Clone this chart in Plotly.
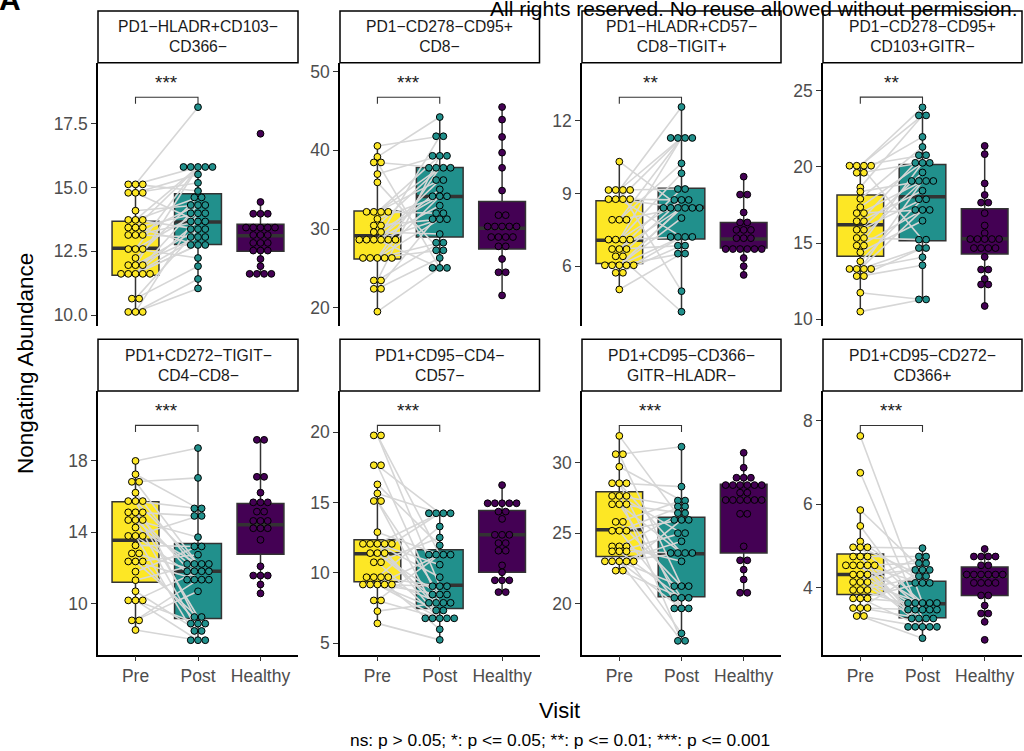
import plotly.graph_objects as go
from collections import Counter, defaultdict

W, H = 1024, 751
FONT = "Liberation Sans, Arial, Helvetica, sans-serif"

groups = ["Pre", "Post", "Healthy"]
group_colors = ["#FDE725", "#21908C", "#440154"]

panel_titles = [
    "PD1−HLADR+CD103−<br>CD366−",
    "PD1−CD278−CD95+<br>CD8−",
    "PD1−HLADR+CD57−<br>CD8−TIGIT+",
    "PD1−CD278−CD95+<br>CD103+GITR−",
    "PD1+CD272−TIGIT−<br>CD4−CD8−",
    "PD1+CD95−CD4−<br>CD57−",
    "PD1+CD95−CD366−<br>GITR−HLADR−",
    "PD1+CD95−CD272−<br>CD366+",
]
signif_labels = ["***", "***", "**", "**", "***", "***", "***", "***"]

# ---------------- data (Pre[i] paired with Post[i]) ----------------
pre_1 = [15.12, 15.12, 15.12, 14.79, 14.79, 14.79, 14.09, 13.73, 13.73, 13.73, 13.43, 13.43, 13.43, 13.14, 13.14, 13.14,
         12.59, 12.59, 12.59, 12.24, 11.96, 11.96, 11.96, 11.62, 11.62, 11.62, 11.62, 11.62, 10.65, 10.65, 10.13, 10.13, 10.13]
post_1 = [18.14, 15.80, 14.86, 15.51, 13.67, 15.18, 14.31, 15.80, 14.61, 13.37, 13.99, 15.80, 12.75, 14.31, 13.06, 13.67,
          15.80, 13.99, 12.24, 14.61, 13.37, 15.80, 13.06, 12.75, 13.67, 14.31, 13.06, 12.75, 13.37, 11.92, 11.42, 13.99, 11.05]
healthy_1 = [17.10, 14.43, 13.97, 13.97, 13.97, 13.43, 13.43, 13.43, 13.43, 13.43, 13.14, 13.14, 13.14, 12.83, 12.83, 12.83,
             12.53, 12.53, 12.53, 12.20, 11.92, 11.62, 11.62, 11.62, 11.62]

pre_2 = [40.56, 39.17, 38.46, 38.46, 36.98, 35.93, 32.18, 32.18, 32.18, 32.18, 31.29, 30.45, 30.45, 29.61, 29.61, 28.64,
         28.64, 28.64, 28.64, 28.64, 28.64, 26.32, 26.32, 26.32, 26.32, 26.32, 23.46, 23.46, 22.40, 22.40, 19.50]
post_2 = [41.79, 44.23, 25.06, 37.78, 39.30, 27.29, 37.78, 36.22, 32.01, 39.30, 34.16, 37.78, 31.25, 34.16, 29.36, 41.79,
          36.22, 35.04, 31.25, 25.06, 32.98, 37.78, 34.16, 28.26, 31.25, 27.29, 39.30, 28.26, 32.01, 26.32, 25.06]
healthy_2 = [45.50, 43.90, 41.70, 39.70, 37.78, 34.88, 31.76, 31.76, 30.32, 30.32, 30.32, 30.32, 30.32, 28.98, 28.98, 28.98,
             28.98, 27.80, 27.80, 26.19, 24.50, 24.50, 21.56]

pre_3 = [10.32, 9.15, 9.15, 9.15, 9.15, 8.77, 8.77, 8.77, 8.77, 7.92, 7.92, 7.92, 7.10, 7.10, 7.10, 7.10, 6.71, 6.71, 6.71,
         6.41, 6.41, 6.04, 6.04, 6.04, 6.04, 6.04, 5.73, 5.73, 5.04]
post_3 = [8.41, 12.58, 11.30, 4.97, 9.19, 11.30, 8.74, 8.41, 7.21, 11.30, 10.25, 8.41, 11.30, 9.84, 8.74, 7.21, 9.19, 8.41,
          6.85, 8.74, 4.12, 8.41, 7.99, 7.21, 6.52, 8.41, 7.21, 6.85, 6.52]
healthy_3 = [9.70, 8.96, 8.96, 8.22, 7.81, 7.81, 7.50, 7.50, 7.50, 7.16, 7.16, 7.16, 6.71, 6.71, 6.71, 6.71, 6.71, 6.71,
             6.34, 6.00, 5.64]

pre_4 = [20.07, 20.07, 20.07, 20.07, 19.61, 19.61, 18.65, 18.37, 17.90, 17.35, 16.96, 16.96, 16.43, 16.43, 15.87, 15.87,
         15.33, 15.33, 14.83, 14.83, 14.39, 13.80, 13.30, 13.30, 13.30, 13.30, 12.83, 12.83, 11.74, 10.50]
post_4 = [23.90, 23.37, 20.76, 15.22, 21.96, 20.26, 23.37, 19.07, 21.30, 20.26, 19.07, 17.17, 20.76, 18.43, 19.63, 17.87,
          19.07, 15.22, 17.17, 20.26, 16.46, 17.87, 19.07, 17.17, 14.67, 14.07, 14.67, 13.54, 11.30, 11.30]
healthy_4 = [21.37, 20.83, 18.91, 18.15, 17.65, 17.65, 16.96, 16.15, 15.65, 15.26, 15.26, 15.26, 15.26, 15.26, 14.67, 14.67,
             14.67, 14.67, 14.09, 13.26, 13.26, 12.65, 12.28, 12.28, 10.87]

pre_5 = [18.00, 17.25, 16.83, 16.83, 16.22, 15.75, 15.75, 15.75, 15.12, 15.12, 15.12, 14.69, 14.69, 14.69, 14.27, 13.80,
         13.80, 13.80, 13.27, 12.82, 12.82, 12.37, 12.37, 12.37, 11.80, 11.32, 10.70, 10.19, 10.19, 10.19, 9.07, 9.07, 8.53]
post_5 = [18.72, 15.34, 12.23, 17.05, 11.82, 15.34, 8.89, 12.23, 11.35, 14.92, 9.26, 13.73, 11.82, 8.48, 12.23, 14.92,
          11.35, 7.96, 13.21, 11.82, 8.89, 12.75, 9.26, 11.35, 13.21, 12.23, 8.48, 11.82, 7.96, 8.89, 11.35, 10.70, 7.96]
healthy_5 = [19.18, 19.18, 17.11, 17.11, 16.22, 15.68, 15.68, 15.68, 15.16, 15.16, 14.64, 14.64, 14.64, 14.23, 14.23, 14.23,
             13.58, 12.10, 11.58, 11.58, 11.58, 11.08, 10.58]

pre_6 = [19.76, 19.76, 17.64, 17.64, 16.28, 15.64, 15.10, 15.10, 12.89, 12.06, 12.06, 12.06, 12.06, 12.06, 11.40, 11.40,
         11.40, 10.75, 10.75, 9.69, 9.69, 9.69, 9.69, 9.17, 9.17, 9.17, 9.17, 9.17, 8.04, 8.04, 7.28, 6.41]
post_6 = [11.29, 9.05, 14.23, 7.87, 11.95, 14.23, 8.46, 6.77, 11.29, 14.23, 9.69, 7.33, 6.77, 10.58, 14.23, 8.46, 7.87,
          12.51, 6.77, 13.29, 9.05, 7.87, 5.99, 11.29, 8.46, 6.77, 7.33, 9.05, 6.77, 11.29, 7.87, 5.24]
healthy_6 = [16.23, 14.94, 14.94, 14.94, 14.94, 14.94, 14.35, 14.35, 13.83, 12.70, 12.70, 12.70, 12.11, 12.11, 11.57, 11.57,
             10.53, 10.04, 9.47, 9.47, 9.47, 8.63, 8.63]

pre_7 = [31.91, 30.61, 30.61, 29.72, 28.55, 28.55, 28.55, 27.65, 27.65, 27.65, 27.06, 27.06, 27.06, 25.81, 25.81, 25.18,
         25.18, 25.18, 24.07, 24.07, 24.07, 23.72, 23.72, 23.72, 23.01, 23.01, 23.01, 23.01, 23.01, 22.35, 22.35]
post_7 = [25.95, 31.14, 21.25, 27.32, 28.31, 23.60, 19.67, 26.90, 25.01, 17.37, 26.43, 23.60, 20.42, 27.32, 21.25, 26.90,
          25.95, 19.67, 23.01, 26.43, 17.90, 23.60, 20.42, 25.01, 24.43, 19.67, 21.25, 23.60, 17.37, 25.95, 20.42]
healthy_7 = [30.71, 29.65, 28.94, 28.94, 28.94, 28.42, 28.42, 28.42, 28.42, 28.42, 28.42, 27.88, 27.88, 27.36, 27.36, 27.36,
             27.36, 27.36, 27.36, 26.38, 26.38, 24.07, 23.08, 23.08, 22.42, 21.72, 20.78, 20.78]

pre_8 = [7.63, 6.75, 5.86, 5.48, 5.11, 4.97, 4.97, 4.97, 4.75, 4.75, 4.75, 4.54, 4.54, 4.54, 4.54, 4.54, 4.32, 4.32, 4.32,
         4.14, 4.14, 4.14, 3.95, 3.95, 3.95, 3.75, 3.75, 3.75, 3.52, 3.52, 3.52, 3.33, 3.33]
post_8 = [3.64, 3.27, 4.43, 3.48, 4.12, 4.95, 3.64, 4.28, 4.75, 3.07, 3.48, 4.59, 3.27, 4.12, 3.64, 3.07, 4.43, 3.48, 3.07,
          4.75, 3.64, 3.27, 4.59, 3.48, 4.28, 4.12, 3.07, 3.64, 4.43, 3.27, 3.48, 2.80, 3.07]
healthy_8 = [4.93, 4.75, 4.75, 4.75, 4.75, 4.54, 4.54, 4.32, 4.32, 4.32, 4.32, 4.32, 4.32, 4.12, 4.12, 4.12, 4.12, 3.82,
             3.82, 3.58, 3.39, 3.39, 3.19, 2.76]

# ---------------- box statistics (Pre, Post, Healthy) ----------------
q1_1, med_1, q3_1 = [11.57, 12.77, 12.50], [12.62, 13.65, 13.11], [13.68, 14.75, 13.56]
lo_1, hi_1 = [10.12, 11.04, 11.60], [15.10, 15.79, 14.42]
q1_2, med_2, q3_2 = [26.20, 28.98, 27.46], [29.14, 34.12, 30.11], [32.30, 37.83, 33.49]
lo_2, hi_2 = [19.50, 25.06, 21.56], [40.56, 44.23, 45.50]
q1_3, med_3, q3_3 = [6.11, 7.12, 6.75], [7.07, 8.44, 7.12], [8.71, 9.22, 7.81]
lo_3, hi_3 = [5.04, 4.12, 5.64], [10.32, 12.58, 9.70]
q1_4, med_4, q3_4 = [14.13, 15.15, 14.28], [16.20, 18.04, 15.28], [18.15, 20.15, 17.24]
lo_4, hi_4 = [10.50, 11.30, 10.87], [20.07, 23.90, 21.37]
q1_5, med_5, q3_5 = [11.21, 9.18, 12.78], [13.56, 11.82, 14.42], [15.71, 13.38, 15.62]
lo_5, hi_5 = [8.53, 7.96, 10.58], [17.98, 18.72, 19.18]
q1_6, med_6, q3_6 = [9.36, 7.47, 10.04], [11.36, 9.12, 12.70], [12.35, 11.64, 14.42]
lo_6, hi_6 = [6.41, 5.24, 8.63], [16.28, 14.23, 16.23]
q1_7, med_7, q3_7 = [23.36, 20.49, 23.60], [25.25, 23.55, 27.44], [27.95, 26.14, 28.47]
lo_7, hi_7 = [22.31, 17.41, 20.78], [31.95, 31.18, 30.70]
q1_8, med_8, q3_8 = [3.84, 3.29, 3.82], [4.32, 3.62, 4.28], [4.81, 4.16, 4.50]
lo_8, hi_8 = [3.33, 2.79, 3.19], [5.85, 4.95, 4.93]

# significance bracket heights (data units)
bracket_y = [18.53, 46.75, 12.98, 24.57, 19.99, 20.47, 32.65, 7.88]

# ---------------- axis settings ----------------
y_ranges = [[9.57, 19.88], [17.64, 51.14], [3.52, 14.41], [9.54, 26.83],
            [7.16, 21.92], [4.20, 22.92], [16.40, 35.10], [2.41, 8.705]]
y_ticks = [[10, 12.5, 15, 17.5], [20, 30, 40, 50], [6, 9, 12], [10, 15, 20, 25],
           [10, 14, 18], [5, 10, 15, 20], [20, 25, 30], [4, 6, 8]]
y_tick_text = [["10.0", "12.5", "15.0", "17.5"], ["20", "30", "40", "50"], ["6", "9", "12"], ["10", "15", "20", "25"],
               ["10", "14", "18"], ["5", "10", "15", "20"], ["20", "25", "30"], ["4", "6", "8"]]

pres = [pre_1, pre_2, pre_3, pre_4, pre_5, pre_6, pre_7, pre_8]
posts = [post_1, post_2, post_3, post_4, post_5, post_6, post_7, post_8]
healthies = [healthy_1, healthy_2, healthy_3, healthy_4, healthy_5, healthy_6, healthy_7, healthy_8]
q1s = [q1_1, q1_2, q1_3, q1_4, q1_5, q1_6, q1_7, q1_8]
meds = [med_1, med_2, med_3, med_4, med_5, med_6, med_7, med_8]
q3s = [q3_1, q3_2, q3_3, q3_4, q3_5, q3_6, q3_7, q3_8]
los = [lo_1, lo_2, lo_3, lo_4, lo_5, lo_6, lo_7, lo_8]
his = [hi_1, hi_2, hi_3, hi_4, hi_5, hi_6, hi_7, hi_8]

# layout in pixels
col_x = [(98, 298), (340, 539.5), (582, 781), (823, 1022)]
row_y = [(62, 327), (392, 657)]
strip_y = [(10, 62), (340, 392)]
BOX_W = 0.75
DOT_STEP = 0.116


def px_x(p):
    return p / W


def px_y(p):
    return 1 - p / H


def dot_offsets(vals):
    counts = Counter(vals)
    seen = defaultdict(int)
    out = []
    for v in vals:
        n = counts[v]
        k = seen[v]
        seen[v] += 1
        out.append((k - (n - 1) / 2) * DOT_STEP)
    return out


fig = go.Figure()
shapes = []
annotations = []
layout_axes = {}

for i in range(8):
    r, c = divmod(i, 4)
    sfx = "" if i == 0 else str(i + 1)
    xa, ya = "x" + sfx, "y" + sfx
    xc = [1, 2, 3]
    grp_vals = [pres[i], posts[i], healthies[i]]

    # boxes
    for g in range(3):
        fig.add_trace(go.Box(
            x=[xc[g]], q1=[q1s[i][g]], median=[meds[i][g]], q3=[q3s[i][g]],
            lowerfence=[los[i][g]], upperfence=[his[i][g]],
            width=BOX_W, fillcolor=group_colors[g], boxpoints=False,
            line=dict(color="#333333", width=1.5), whiskerwidth=0,
            xaxis=xa, yaxis=ya, showlegend=False, hoverinfo="skip"))

    # thick medians
    mx, my = [], []
    for g in range(3):
        mx += [xc[g] - BOX_W / 2, xc[g] + BOX_W / 2, None]
        my += [meds[i][g], meds[i][g], None]
    fig.add_trace(go.Scatter(x=mx, y=my, mode="lines", line=dict(color="#333333", width=3.5),
                             xaxis=xa, yaxis=ya, showlegend=False, hoverinfo="skip"))

    # paired lines
    lx, ly = [], []
    for a, b in zip(pres[i], posts[i]):
        lx += [1, 2, None]
        ly += [a, b, None]
    fig.add_trace(go.Scatter(x=lx, y=ly, mode="lines", line=dict(color="#d6d6d6", width=1.6),
                             xaxis=xa, yaxis=ya, showlegend=False, hoverinfo="skip"))

    # dots
    for g in range(3):
        offs = dot_offsets(grp_vals[g])
        fig.add_trace(go.Scatter(
            x=[xc[g] + o for o in offs], y=grp_vals[g], mode="markers",
            marker=dict(size=6.8, color=group_colors[g], line=dict(color="black", width=1)),
            xaxis=xa, yaxis=ya, showlegend=False, hoverinfo="skip"))

    # significance bracket
    span = y_ranges[i][1] - y_ranges[i][0]
    tip = 0.025 * span
    by = bracket_y[i]
    fig.add_trace(go.Scatter(x=[1, 1, 2, 2], y=[by - tip, by, by, by - tip], mode="lines",
                             line=dict(color="#333333", width=1.1),
                             xaxis=xa, yaxis=ya, showlegend=False, hoverinfo="skip"))
    annotations.append(dict(x=1.5, y=by, xref=xa, yref=ya, text=signif_labels[i], showarrow=False,
                            xanchor="center", yanchor="bottom", yshift=2,
                            font=dict(family=FONT, size=19, color="#1a1a1a")))

    x0, x1 = col_x[c]
    y0, y1 = row_y[r]
    bottom = (r == 1)
    layout_axes["xaxis" + sfx] = dict(
        domain=[px_x(x0), px_x(x1)], anchor=ya, range=[0.4, 3.6],
        tickvals=xc, ticktext=groups, showgrid=False, zeroline=False,
        showline=bottom, linecolor="black", linewidth=1.6,
        ticks="outside" if bottom else "", ticklen=5, tickwidth=1.2, tickcolor="#333333",
        showticklabels=bottom, tickfont=dict(family=FONT, size=17.5, color="#4d4d4d"))
    layout_axes["yaxis" + sfx] = dict(
        domain=[px_y(y1), px_y(y0)], anchor=xa, range=y_ranges[i],
        tickvals=y_ticks[i], ticktext=y_tick_text[i], showgrid=False, zeroline=False,
        showline=True, linecolor="black", linewidth=1.6,
        ticks="outside", ticklen=5, tickwidth=1.2, tickcolor="#333333",
        tickfont=dict(family=FONT, size=17.5, color="#4d4d4d"))

    # strip
    sy0, sy1 = strip_y[r]
    shapes.append(dict(type="rect", xref="paper", yref="paper",
                       x0=px_x(x0), x1=px_x(x1), y0=px_y(sy1), y1=px_y(sy0),
                       line=dict(color="black", width=1.5), fillcolor="white", layer="above"))
    annotations.append(dict(x=px_x((x0 + x1) / 2), y=px_y((sy0 + sy1) / 2), xref="paper", yref="paper",
                            text=panel_titles[i], showarrow=False, xanchor="center", yanchor="middle",
                            font=dict(family=FONT, size=15.7, color="#1a1a1a")))

# titles / captions
annotations.append(dict(x=px_x(25), y=px_y(365), xref="paper", yref="paper", text="Nongating Abundance",
                        textangle=-90, showarrow=False, xanchor="center", yanchor="middle",
                        font=dict(family=FONT, size=22.5, color="black")))
annotations.append(dict(x=px_x(559), y=px_y(713), xref="paper", yref="paper", text="Visit",
                        showarrow=False, xanchor="center", yanchor="middle",
                        font=dict(family=FONT, size=22, color="black")))
annotations.append(dict(x=px_x(560), y=px_y(742.5), xref="paper", yref="paper",
                        text="ns: p > 0.05; *: p <= 0.05; **: p <= 0.01; ***: p <= 0.001",
                        showarrow=False, xanchor="center", yanchor="middle",
                        font=dict(family=FONT, size=17.4, color="black")))
annotations.append(dict(x=px_x(488), y=px_y(21), xref="paper", yref="paper",
                        text="All rights reserved. No reuse allowed without permission.",
                        showarrow=False, xanchor="left", yanchor="bottom",
                        font=dict(family=FONT, size=21, color="black")))
annotations.append(dict(x=px_x(-3), y=px_y(17), xref="paper", yref="paper", text="<b>A</b>",
                        showarrow=False, xanchor="left", yanchor="bottom",
                        font=dict(family=FONT, size=30, color="black")))

fig.update_layout(
    width=W, height=H, margin=dict(l=0, r=0, t=0, b=0),
    paper_bgcolor="white", plot_bgcolor="white",
    boxmode="overlay", showlegend=False,
    shapes=shapes, annotations=annotations,
    font=dict(family=FONT),
    **layout_axes)

fig.write_html("out.html")
